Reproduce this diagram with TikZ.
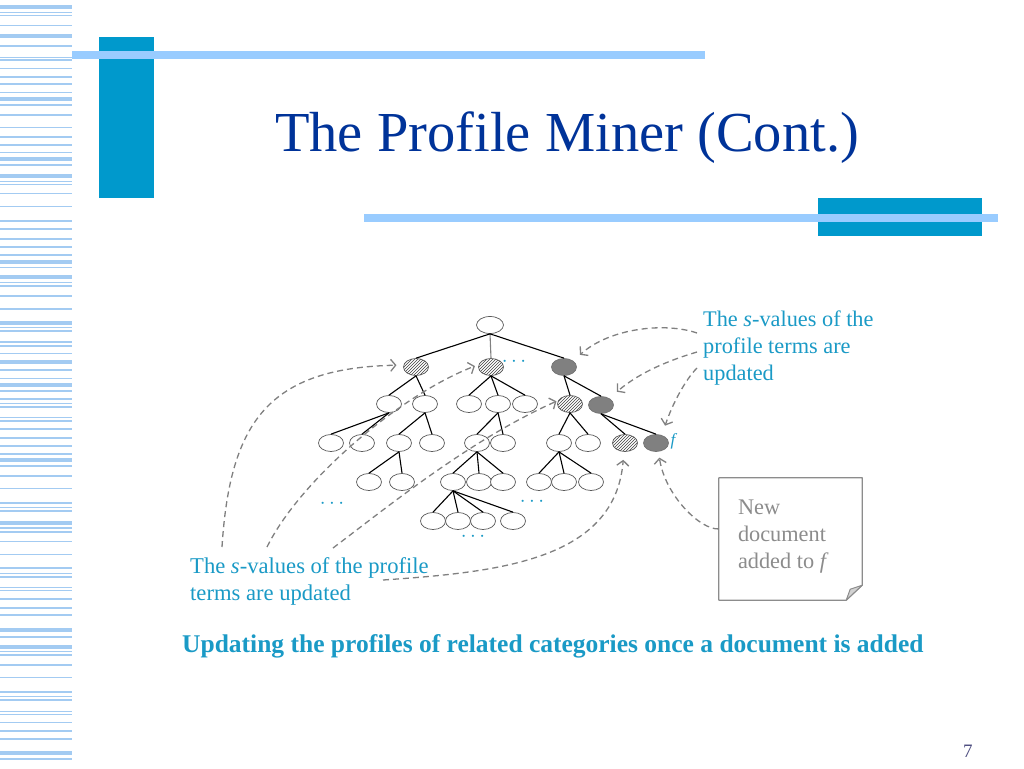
\documentclass[tikz,border=0pt]{standalone}
\usepackage{fontspec}
\setmainfont{Liberation Serif}
\usepackage{tikz}
\usetikzlibrary{shapes.geometric,patterns,arrows.meta,calc}
\definecolor{titleblue}{HTML}{003399}
\definecolor{barblue}{HTML}{0099CC}
\definecolor{barlight}{HTML}{99CCFF}
\definecolor{stripe}{HTML}{A3CBF2}
\definecolor{cyantext}{HTML}{1A9AC6}
\definecolor{notegray}{HTML}{8C8C8C}
\definecolor{pagenum}{HTML}{4D4D80}
\tikzset{
  cat/.style={
    ellipse, draw=black!65, line width=0.7pt,
    minimum width=25pt, minimum height=17pt,
    inner sep=0pt, fill=white
  },
  hatched/.style={cat, preaction={fill=white}, pattern=north east lines, pattern color=black!75},
  updated/.style={cat, fill=gray, draw=black!55},
  edge/.style={line width=1.1pt, black},
  upd/.style={
    draw=gray, dash pattern=on 6pt off 4pt, line width=1.3pt,
    -{Straight Barb[length=5pt,width=12pt]}
  },
  bluetext/.style={text=cyantext, align=left, inner sep=0pt,
    font=\fontsize{22.3}{27}\selectfont},
  dots/.style={text=cyantext, inner sep=0pt, font=\fontsize{20}{20}\selectfont}
}

\begin{document}
\begin{tikzpicture}[x=1pt, y=-1pt, line cap=butt, line join=round]
  \useasboundingbox (0,0) rectangle (1024,768);
  \fill[white] (0,0) rectangle (1024,768);

  % left stripes
  \foreach \y/\w in {7.3/4, 12.3/1.2, 15.7/1.2, 25.3/1.2, 35.7/4, 45.7/2.2, 57.3/1.2, 60/1.2,
      68.3/1.2, 76.7/2.2, 84.3/2.2, 92.7/1.2, 99/4, 105/2.2, 115/1.2, 127.7/1.2, 136.7/2.2,
      145/2.2, 152.7/1.2, 159/4, 165/2.2, 175.7/4, 181.7/1.2, 184.3/1.2, 193.3/1.2, 206.7/1.2,
      220.7/2.2, 229/2.2, 239.3/2.2, 247.3/2.2, 255/1.2, 261.7/4, 267.3/1.2, 277.3/4, 282.7/1.2,
      286/1.2, 296/1.2, 309/1.2, 323.3/4, 327.7/1.2, 331/2.2, 342/1.2, 345.7/2.2, 353.3/1.2,
      362.3/4, 370/2.2, 378.3/1.2, 384.7/4, 390.7/2.2, 399/2.2, 403.3/1.2, 406.7/2.2, 417.7/1.2,
      421/2.2, 429/1.2, 437.7/2.2, 445.7/2.2, 454/1.2, 460/4, 465.7/2.2, 476/1.2, 488.3/1.2,
      502.7/2.2, 507.3/1.2, 511/2.2, 523.3/4, 528/2.2, 532/1.2, 541.7/1.2, 554.3/1.2, 568.3/2.2,
      573.3/1.2, 576.7/2.2, 587.3/1.2, 590.7/1.2, 599/1.2, 607.7/2.2, 615.3/2.2, 630/4, 636.7/2.2,
      646.7/4, 651.7/1.2, 655/1.2, 665/1.2, 677.7/1.2, 691.7/2.2, 696.7/1.2, 700/2.2, 711.7/1.2,
      714.3/1.2, 722.3/1.2, 731/2.2, 738.7/2.2, 753.3/4, 759.3/2.2}
    \draw[stripe, line width=\w pt] (0,\y) -- (72,\y);

  % title bars
  \fill[barblue] (99,37) rectangle (154,198);
  \fill[barlight] (72,51) rectangle (705,59);
  \fill[barblue] (818,198) rectangle (982,236);
  \fill[barlight] (364,214) rectangle (998,222);

  \node[anchor=base west, inner sep=0pt, text=titleblue, font=\fontsize{56.5}{60}\selectfont]
    (title) at (275,151) {The Profile Miner (Cont.)};

  % category tree
  \node[cat, minimum width=27pt] (root) at (490,325) {};
  \node[hatched] (a1) at (416,367) {};
  \node[hatched] (a2) at (491,367) {};
  \node[updated] (a3) at (564,367) {};
  \node[cat] (b1) at (389,404) {};
  \node[cat] (b2) at (425,404) {};
  \node[cat] (b3) at (469,404) {};
  \node[cat] (b4) at (498,404) {};
  \node[cat] (b5) at (525,404) {};
  \node[hatched] (b6) at (570,404) {};
  \node[updated] (b7) at (601,405) {};
  \node[cat] (c1) at (331,443) {};
  \node[cat] (c2) at (362,443) {};
  \node[cat] (c3) at (399,443) {};
  \node[cat] (c4) at (432,443) {};
  \node[cat] (c5) at (477,443) {};
  \node[cat] (c6) at (503,443) {};
  \node[cat] (c7) at (559,443) {};
  \node[cat] (c8) at (588,443) {};
  \node[hatched] (c9) at (625,443) {};
  \node[updated] (c10) at (656,443) {};
  \node[cat] (d1) at (369,482) {};
  \node[cat] (d2) at (402,482) {};
  \node[cat] (d3) at (453,482) {};
  \node[cat] (d4) at (479,482) {};
  \node[cat] (d5) at (503,482) {};
  \node[cat] (d6) at (539,482) {};
  \node[cat] (d7) at (564,482) {};
  \node[cat] (d8) at (591,482) {};
  \node[cat] (e1) at (433,521) {};
  \node[cat] (e2) at (458,521) {};
  \node[cat] (e3) at (483,521) {};
  \node[cat] (e4) at (513,521) {};

  \draw[edge, gray] (root.south) -- (a2.north);
  \foreach \p/\c in {root/a1, root/a3, a1/b1, a1/b2, a2/b3, a2/b4, a2/b5, a3/b6, a3/b7,
      b1/c1, b1/c2, b2/c3, b2/c4, b4/c5, b4/c6, b6/c7, b6/c8, b7/c9, b7/c10,
      c3/d1, c3/d2, c5/d3, c5/d4, c5/d5, c7/d6, c7/d7, c7/d8,
      d3/e1, d3/e2, d3/e3, d3/e4}
    \draw[edge] (\p.south) -- (\c.north);

  \node[dots] (dots1) at (514,362) {$\cdots$};
  \node[dots] (dots2) at (332,504) {$\cdots$};
  \node[dots] (dots3) at (532,502) {$\cdots$};
  \node[dots] (dots4) at (473,537) {$\cdots$};
  \node[text=cyantext, inner sep=0pt, font=\fontsize{17}{17}\selectfont] (flbl) at (674,441) {\textit{f}};

  % texts
  \node[bluetext, anchor=north west] (rtext) at (703,311)
    {The \textit{s}-values of the\\profile terms are\\updated};
  \node[bluetext, anchor=north west, font=\fontsize{22.6}{27}\selectfont] (ltext) at (190,557)
    {The \textit{s}-values of the profile\\terms are updated};

  % note
  \node[minimum width=143pt, minimum height=122pt, inner sep=0pt] (note) at (790.5,539) {};
  \draw[notegray, line width=1.2pt]
    (note.north west) -- (note.north east) -- ($(note.south east)+(0,-15)$)
    -- ($(note.south east)+(-16,0)$) -- (note.south west) -- cycle;
  \filldraw[notegray, fill=gray!35, line width=1pt]
    ($(note.south east)+(0,-15)$) -- ($(note.south east)+(-16,0)$)
    -- ($(note.south east)+(-12,-11)$) -- cycle;
  \node[anchor=north west, align=left, inner sep=0pt, text=notegray,
    font=\fontsize{22.3}{26.7}\selectfont] (notetext) at ($(note.north west)+(19,22)$)
    {New\\document\\added to \textit{f}};

  % update arrows
  \coordinate (r1) at (697,333);
  \coordinate (r2) at (697,352);
  \coordinate (r3) at (697,368);
  \coordinate (l1) at (222,547);
  \coordinate (l2) at (267,547);
  \coordinate (l3) at (333,548);
  \coordinate (l4) at (383,580);
  \draw[upd, shorten >=9pt] (r1) .. controls (665,322) and (610,328) .. (a3.34);
  \draw[upd, shorten >=10pt] (r2) .. controls (670,360) and (640,372) .. (b7.39);
  \draw[upd, shorten >=10pt] (r3) .. controls (685,380) and (672,405) .. (c10.53);
  \draw[upd, shorten >=6pt] (note.172) .. controls (700,530) and (665,495) .. (c10.-74);
  \draw[upd, shorten >=7pt] (l1) .. controls (230,420) and (270,368) .. (a1.171);
  \draw[upd, shorten >=4pt] (l2) .. controls (300,480) and (400,395) .. (a2.169);
  \draw[upd, shorten >=2pt] (l3) .. controls (390,505) and (470,440) .. (b6.163);
  \draw[upd, shorten >=8pt] (l4) .. controls (500,572) and (615,560) .. (c9.-97);

  \node[anchor=base west, inner sep=0pt, text=cyantext, font=\bfseries\fontsize{25.5}{28}\selectfont]
    (caption) at (182,652) {Updating the profiles of related categories once a document is added};
  \node[anchor=base west, inner sep=0pt, text=pagenum, font=\fontsize{19}{20}\selectfont]
    (page) at (963,757) {7};
\end{tikzpicture}
\end{document}
